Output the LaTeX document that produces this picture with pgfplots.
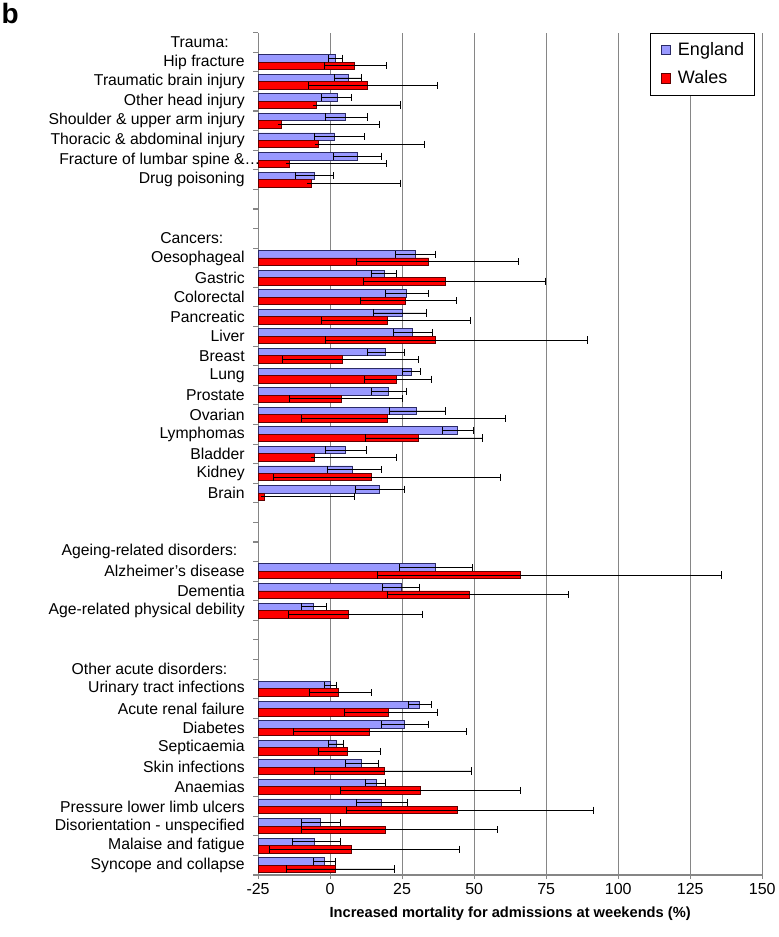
\documentclass[border=0pt]{standalone}
\usepackage{pgfplots}
\pgfplotsset{compat=1.18}
\usepackage{pgfplotstable}
\usepackage{fontspec}
\setmainfont{Liberation Sans}
\definecolor{eng}{HTML}{9999FF}
\definecolor{wal}{HTML}{FF0000}
\definecolor{gridc}{HTML}{868686}
\definecolor{engd}{HTML}{2A2A66}
\definecolor{wald}{HTML}{600000}

% y: row position (1 = bottom row); e/w = estimate, lo/hi = confidence limits (%)
\pgfplotstableread{
y e elo ehi w wlo whi
42 1.8 -0.6 4.1 8.5 -2.0 19.7
41 6.3 1.5 10.9 12.8 -7.5 37.4
40 2.4 -2.9 7.5 -4.8 -4.8 24.5
39 5.4 -1.6 12.8 -16.9 -16.9 17.0
38 1.6 -5.4 11.9 -4.0 -4.0 32.7
37 9.3 1.0 17.9 -14.1 -14.1 19.4
36 -5.4 -12.0 1.0 -6.6 -6.6 24.5
32 29.5 22.6 36.4 34.2 9.0 65.4
31 18.7 14.3 23.0 40.0 11.5 74.7
30 26.5 19.2 34.2 26.2 10.4 43.8
29 25.0 15.1 33.4 20.0 -3.0 48.6
28 28.6 22.1 35.5 36.5 -1.8 89.3
27 19.1 13.0 25.7 4.4 -16.7 30.8
26 28.1 25.0 31.2 23.0 11.8 35.1
25 20.4 14.3 26.5 4.0 -14.2 25.0
24 30.0 20.7 39.9 19.9 -10.1 60.7
23 44.2 38.9 49.8 30.8 12.1 52.8
22 5.3 -1.7 12.6 -5.5 -5.5 23.0
21 7.8 -1.0 17.7 14.5 -19.8 59.0
20 17.0 8.9 25.8 -22.7 -22.7 8.3
16 36.4 24.2 49.5 65.9 16.4 135.9
15 24.8 18.1 31.1 48.2 19.8 82.7
14 -5.7 -10.0 -1.4 6.5 -14.6 32.0
10 0.1 -2.1 2.3 2.8 -7.1 14.4
9 31.0 27.0 35.3 20.2 5.0 37.4
8 25.8 17.9 34.0 13.7 -12.7 47.4
7 2.2 -0.5 4.7 6.1 -4.0 17.3
6 10.8 5.3 16.8 18.7 -5.5 49.0
5 16.0 12.2 19.1 31.2 3.5 65.9
4 17.7 9.0 26.8 44.2 5.5 91.5
3 -3.5 -10.0 3.4 19.2 -10.0 58.2
2 -5.3 -13.1 3.4 7.5 -21.2 45.0
1 -2.0 -5.8 2.0 2.0 -15.3 22.4
}\datatable

\pgfplotsset{
  cibars/.style={
    error bars/.cd,
      x dir=both, x explicit,
      error mark=|,
      error bar style={black, line width=0.6pt},
      error mark options={black, mark size=2.7pt, line width=0.6pt},
  },
}

\begin{document}
\begin{tikzpicture}
\useasboundingbox (-193.5pt,-46.5pt) rectangle (390pt,656pt);
\node[anchor=north west, inner sep=0pt, font=\bfseries\fontsize{21}{21}\selectfont] at (-192.5pt,654pt) {b};
\begin{axis}[
  at={(0pt,0pt)}, anchor=south west,
  width=378pt, height=631.5pt, scale only axis,
  clip mode=individual,
  xmin=0, xmax=175, ymin=0.5, ymax=43.5,
  xtick={0,25,...,175},
  xticklabels={-25,0,25,50,75,100,125,150},
  % labels sit on the row boundaries and are moved up half a row onto their rows
  ytick={0.5,1.5,...,43.5},
  yticklabels={
    Syncope and collapse,
    Malaise and fatigue,
    Disorientation - unspecified,
    Pressure lower limb ulcers,
    Anaemias,
    Skin infections,
    Septicaemia,
    Diabetes,
    Acute renal failure,
    Urinary tract infections,
    Other acute disorders:\rule{13pt}{0pt},
    {},{},
    Age-related physical debility,
    Dementia,
    Alzheimer's disease,
    Ageing-related disorders:\rule{5.5pt}{0pt},
    {},{},
    Brain,
    Kidney,
    Bladder,
    Lymphomas,
    Ovarian,
    Prostate,
    Lung,
    Breast,
    Liver,
    Pancreatic,
    Colorectal,
    Gastric,
    Oesophageal,
    Cancers:\rule{16pt}{0pt},
    {},{},
    Drug poisoning,
    Fracture of lumbar spine \&\rlap{…},
    Thoracic \& abdominal injury,
    Shoulder \& upper arm injury,
    Other head injury,
    Traumatic brain injury,
    Hip fracture,
    Trauma:\rule{12pt}{0pt},
    {}
  },
  axis lines*=left,
  axis line style={gridc, line width=0.8pt},
  tick align=outside,
  major tick length=3pt,
  tick style={gridc, line width=0.8pt},
  ytick style={draw=none},
  xmajorgrids,
  grid style={gridc, line width=0.8pt},
  yticklabel style={font=\fontsize{11.8}{13}\selectfont, xshift=-3.5pt, yshift=7.343pt},
  xticklabel style={font=\fontsize{12}{14}\selectfont},
  xlabel={Increased mortality for admissions at weekends (\%)},
  xlabel style={font=\bfseries\fontsize{11}{13}\selectfont, yshift=-2pt},
  xbar, bar width=5.6pt,
  legend style={at={(0.986,1)}, anchor=north east, draw=black, line width=0.7pt,
    font=\fontsize{13.5}{16}\selectfont, row sep=6pt, inner xsep=6pt, inner ysep=5pt,
    cells={anchor=west}},
  legend image code/.code={\path (0pt,0pt) (12pt,0pt);
    \draw[#1, line width=0.5pt] (1.5pt,-3.6pt) rectangle (8.7pt,3.6pt);},
]
\addplot[xbar, bar shift=2.8pt, fill=eng, draw=engd, line width=0.6pt, cibars]
  table[y=y, x expr=\thisrow{e}+25,
        x error plus expr=\thisrow{ehi}-\thisrow{e},
        x error minus expr=\thisrow{e}-\thisrow{elo}] {\datatable};
\addplot[xbar, bar shift=-2.8pt, fill=wal, draw=wald, line width=0.6pt, cibars]
  table[y=y, x expr=\thisrow{w}+25,
        x error plus expr=\thisrow{whi}-\thisrow{w},
        x error minus expr=\thisrow{w}-\thisrow{wlo}] {\datatable};
\legend{England, Wales}
% tick marks on the category boundaries of the y axis
\pgfplotsinvokeforeach{0.5,1.5,...,43.5}{
  \draw[gridc, line width=0.8pt] (axis cs:0,#1) -- ++(-3.5pt,0pt);
}
\end{axis}
\end{tikzpicture}
\end{document}
